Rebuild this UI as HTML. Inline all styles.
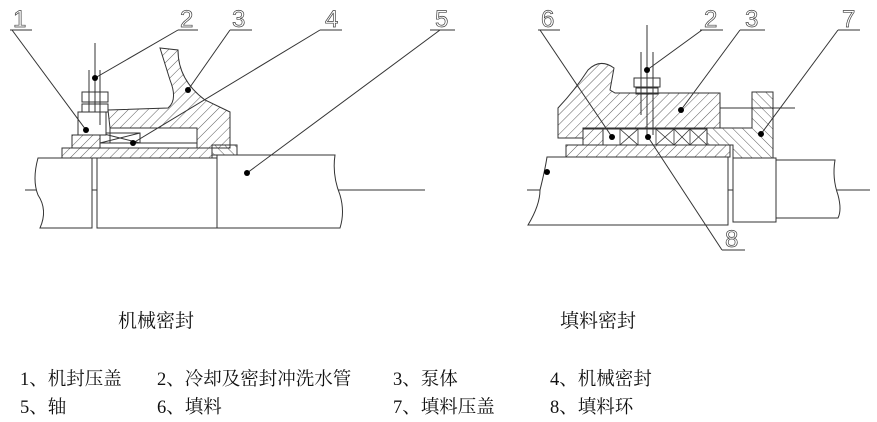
<!DOCTYPE html>
<html><head><meta charset="utf-8"><style>
html,body{margin:0;padding:0;background:#fff;}
svg{display:block}
.t{font-family:"Liberation Serif","Noto Serif CJK SC",serif;font-size:18.5px;fill:#111}
.tt{font-family:"Liberation Serif","Noto Serif CJK SC",serif;font-size:19px;fill:#111}
.n{font-family:"Liberation Sans",sans-serif;font-size:24px;fill:none;stroke:#444;stroke-width:0.7}
</style></head><body>
<svg width="877" height="422" viewBox="0 0 877 422" xmlns="http://www.w3.org/2000/svg">
<defs>
<pattern id="h" width="7" height="7" patternUnits="userSpaceOnUse" patternTransform="rotate(45)">
<line x1="0" y1="0" x2="0" y2="7" stroke="#333" stroke-width="0.8"/></pattern>
<pattern id="h2" width="7" height="7" patternUnits="userSpaceOnUse" patternTransform="rotate(-45)">
<line x1="0" y1="0" x2="0" y2="7" stroke="#333" stroke-width="0.8"/></pattern>
</defs>
<g stroke="#333" stroke-width="1" fill="none">
<line x1="25" y1="190" x2="425" y2="190"/>
<path d="M62,158 L92,158 L92,228 L40,228 Q48,210 38,195 Q32,180 38,158 Z" fill="#fff"/>
<rect x="97" y="158" width="120" height="70" fill="#fff"/>
<path d="M217,155 L335,155 Q332,175 340,195 Q345,212 340,228 L217,228 Z" fill="#fff"/>
<rect x="62" y="148" width="150" height="10" fill="url(#h)"/>
<rect x="212" y="145" width="25" height="10" fill="url(#h2)"/>
<path d="M160,48 L178,50 Q178,80 205,100 L230,112 L230,148 L197,148 L197,130 L110,128 L108,110 L168,108 Q178,100 170,80 Z" fill="url(#h)"/>
<rect x="110" y="128" width="87" height="15" fill="#fff"/>
<path d="M100,133 L140,133 L140,143 L100,143 Z" />
<line x1="100" y1="133" x2="140" y2="143"/>
<line x1="100" y1="143" x2="140" y2="133"/>
<rect x="72" y="135" width="28" height="13" fill="url(#h)"/>
<rect x="78" y="112" width="28" height="23" fill="#fff"/>
<rect x="82" y="92" width="26" height="10"/>
<rect x="82" y="104" width="26" height="8"/>
<line x1="95" y1="43" x2="95" y2="112"/>
<line x1="89" y1="70" x2="89" y2="112"/>
<line x1="100" y1="70" x2="100" y2="125"/>
<line x1="10" y1="30" x2="32" y2="30"/><line x1="12" y1="30" x2="86" y2="130"/>
<line x1="178" y1="30" x2="198" y2="30"/><line x1="178" y1="30" x2="95" y2="78"/>
<line x1="230" y1="30" x2="252" y2="30"/><line x1="230" y1="30" x2="188" y2="90"/>
<line x1="320" y1="30" x2="342" y2="30"/><line x1="320" y1="30" x2="133" y2="143"/>
<line x1="430" y1="30" x2="455" y2="30"/><line x1="440" y1="30" x2="247" y2="173"/>
<line x1="527" y1="190" x2="870" y2="190"/>
<path d="M547,157 L728,157 L728,225 L528,225 Q540,205 540,190 Q545,170 547,157 Z" fill="#fff"/>
<rect x="733" y="158" width="43" height="64" fill="#fff"/>
<path d="M776,160 L835,160 Q832,178 838,195 Q842,210 838,218 L776,218 Z" fill="#fff"/>
<rect x="566" y="145" width="164" height="12" fill="url(#h)"/>
<path d="M558,138 L558,108 Q575,90 588,70 Q600,58 614,68 L610,90 L615,93 L720,93 L720,128 L583,128 L583,138 Z" fill="url(#h)"/>
<rect x="583" y="129" width="124" height="16" fill="#fff"/>
<g stroke-width="0.8">
<line x1="603" y1="129" x2="603" y2="145"/><line x1="620" y1="129" x2="620" y2="145"/>
<line x1="620" y1="129" x2="638" y2="145"/><line x1="620" y1="145" x2="638" y2="129"/>
<line x1="638" y1="129" x2="638" y2="145"/><line x1="656" y1="129" x2="656" y2="145"/>
<line x1="656" y1="129" x2="674" y2="145"/><line x1="656" y1="145" x2="674" y2="129"/>
<line x1="674" y1="129" x2="674" y2="145"/>
<line x1="674" y1="129" x2="690" y2="145"/><line x1="674" y1="145" x2="690" y2="129"/>
<line x1="690" y1="129" x2="690" y2="145"/>
<line x1="690" y1="129" x2="707" y2="145"/><line x1="690" y1="145" x2="707" y2="129"/>
</g>
<rect x="583" y="129" width="20" height="16" fill="url(#h)"/>
<path d="M707,128 L752,128 L752,92 L773,92 L773,158 L733,158 L733,145 L707,145 Z" fill="url(#h2)"/>
<line x1="720" y1="108" x2="795" y2="108"/>
<rect x="634" y="78" width="26" height="9"/>
<rect x="636" y="88" width="22" height="6"/>
<line x1="647" y1="25" x2="647" y2="135"/>
<line x1="641" y1="52" x2="641" y2="115"/>
<line x1="653" y1="52" x2="653" y2="135"/>
<line x1="538" y1="30" x2="560" y2="30"/><line x1="540" y1="30" x2="612" y2="137"/>
<line x1="700" y1="30" x2="723" y2="30"/><line x1="702" y1="30" x2="647" y2="70"/>
<line x1="740" y1="30" x2="765" y2="30"/><line x1="740" y1="30" x2="681" y2="110"/>
<line x1="838" y1="30" x2="860" y2="30"/><line x1="838" y1="30" x2="761" y2="134"/>
<line x1="722" y1="250" x2="745" y2="250"/><line x1="722" y1="250" x2="648" y2="137"/>
</g>
<g fill="#000">
<circle cx="86" cy="130" r="3"/><circle cx="95" cy="78" r="3"/><circle cx="188" cy="90" r="3"/>
<circle cx="133" cy="143" r="3"/><circle cx="247" cy="173" r="3"/>
<circle cx="547" cy="172" r="3"/><circle cx="612" cy="137" r="3"/><circle cx="647" cy="70" r="3"/>
<circle cx="681" cy="110" r="3"/><circle cx="761" cy="134" r="3"/><circle cx="648" cy="137" r="3"/>
</g>
<g class="n">
<text x="13" y="27">1</text><text x="180" y="27">2</text><text x="232" y="27">3</text>
<text x="325" y="27">4</text><text x="435" y="27">5</text>
<text x="541" y="27">6</text><text x="704" y="27">2</text><text x="745" y="27">3</text>
<text x="842" y="27">7</text><text x="725" y="247">8</text>
</g>
<text class="tt" x="118" y="327">机械密封</text>
<text class="tt" x="560" y="327">填料密封</text>
<text class="t" x="20" y="385">1、机封压盖</text>
<text class="t" x="157" y="385">2、冷却及密封冲洗水管</text>
<text class="t" x="393" y="385">3、泵体</text>
<text class="t" x="550" y="385">4、机械密封</text>
<text class="t" x="20" y="413">5、轴</text>
<text class="t" x="157" y="413">6、填料</text>
<text class="t" x="393" y="413">7、填料压盖</text>
<text class="t" x="550" y="413">8、填料环</text>
</svg>
</body></html>
